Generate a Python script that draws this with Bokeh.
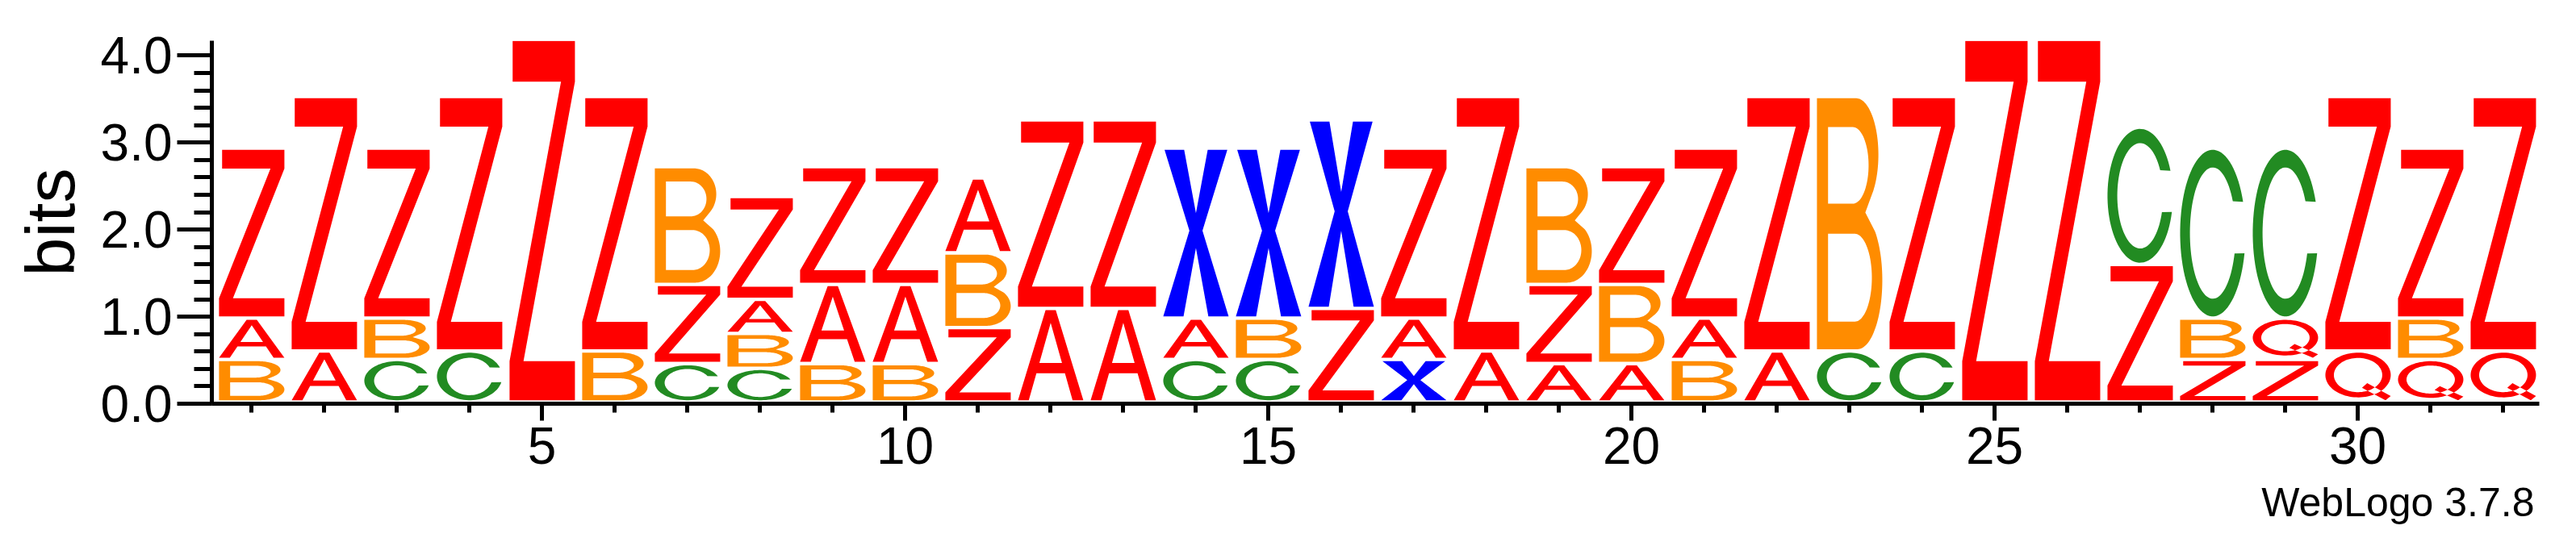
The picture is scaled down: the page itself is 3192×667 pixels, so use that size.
import numpy as np
from bokeh.plotting import figure
from bokeh.models import (ColumnDataSource, Range1d, SingleIntervalTicker,
                          NumeralTickFormatter, Title)
from bokeh.embed import file_html
from bokeh.resources import INLINE

# sequence logo: letters of each column from bottom to top, with their heights in bits
positions = list(range(1, 33))
stacks = ["BAZ", "AZ", "CBZ", "CZ", "Z", "BZ", "CZB", "CBAZ", "BAZ", "BAZ", "ZBA",
          "AZ", "AZ", "CAX", "CBX", "ZX", "XAZ", "AZ", "AZB", "ABZ", "BAZ", "AZ",
          "CB", "CZ", "Z", "Z", "ZC", "ZBC", "ZQC", "QZ", "QBZ", "QZ"]
heights = [
    [0.488, 0.475, 1.954], [0.586, 2.923], [0.488, 0.475, 1.954], [0.586, 2.923],
    [4.167], [0.586, 2.923], [0.441, 0.910, 1.352], [0.386, 0.401, 0.392, 1.182],
    [0.441, 0.910, 1.352], [0.441, 0.910, 1.352], [0.855, 0.858, 0.861],
    [1.074, 2.167], [1.074, 2.167], [0.488, 0.475, 1.954], [0.488, 0.475, 1.954],
    [1.074, 2.167], [0.488, 0.475, 1.954], [0.586, 2.923], [0.441, 0.910, 1.352],
    [0.441, 0.910, 1.352], [0.488, 0.475, 1.954], [0.586, 2.923], [0.586, 2.923],
    [0.586, 2.923], [4.167], [4.167], [1.580, 1.577], [0.488, 0.475, 1.954],
    [0.488, 0.475, 1.954], [0.586, 2.923], [0.488, 0.475, 1.954], [0.586, 2.923],
]
colors = {"A": "#FF0000", "Z": "#FF0000", "Q": "#FF0000",
          "B": "#FF8C00", "C": "#228B22", "X": "#0000FF"}


def arc(cx, cy, rx, ry, a0, a1, n=48):
    t = np.radians(np.linspace(a0, a1, n))
    return list(zip(cx + rx * np.cos(t), cy + ry * np.sin(t)))


# letter outlines in a unit box (x 0..1, y 0..1)
SHAPES = {
    "Z": [[[(0, 0), (1, 0), (1, 0.109), (0.213, 0.109), (1, 0.887), (1, 1),
            (0.047, 1), (0.047, 0.887), (0.787, 0.887), (0, 0.109)]]],
    "A": [[[(0, 0), (0.165, 0), (0.282, 0.30), (0.718, 0.30), (0.835, 0), (1, 0),
            (0.578, 1), (0.422, 1)],
           [(0.327, 0.415), (0.673, 0.415), (0.5, 0.86)]]],
    "X": [[[(0, 0), (0.31, 0), (0.5, 0.41), (0.69, 0), (1, 0), (0.6, 0.515),
            (0.98, 1), (0.68, 1), (0.5, 0.62), (0.32, 1), (0.02, 1), (0.4, 0.515)]]],
    "B": [[[(0, 0), (0, 1)] + arc(0.6, 0.775, 0.34, 0.225, 90, -45) + [(0.74, 0.545)]
           + arc(0.62, 0.275, 0.38, 0.275, 45, -90),
           [(0.17, 0.58), (0.17, 0.885)] + arc(0.55, 0.7325, 0.24, 0.1525, 90, -90),
           [(0.17, 0.11), (0.17, 0.46)] + arc(0.58, 0.285, 0.26, 0.175, 90, -90)]],
    "C": [[arc(0.5, 0.5, 0.5, 0.5, 22, 346, 80) + arc(0.5, 0.5, 0.35, 0.394, 342, 29, 80)]],
    "Q": [[arc(0.5, 0.53, 0.5, 0.47, 0, 360, 90), arc(0.5, 0.53, 0.37, 0.36, 0, 360, 90)],
          [[(0.56, 0.26), (0.64, 0.36), (1.0, 0.09), (0.92, 0.0)]]],
}

gap = 0.04      # blank strip under each letter, bits
glyph_w = 0.9   # letter width, positions

xs, ys, fills = [], [], []
for pos, stack, hs in zip(positions, stacks, heights):
    bottom = 0.0
    for ch, h in zip(stack, hs):
        x0 = pos - 0.445
        y0 = bottom + gap
        hh = h - gap
        xs.append([[[x0 + u * glyph_w for u, v in ring] for ring in poly] for poly in SHAPES[ch]])
        ys.append([[[y0 + v * hh for u, v in ring] for ring in poly] for poly in SHAPES[ch]])
        fills.append(colors[ch])
        bottom += h

source = ColumnDataSource(dict(xs=xs, ys=ys, color=fills))

p = figure(width=3192, height=667, output_backend="svg", toolbar_location=None,
           x_range=Range1d(0.456, 32.5), y_range=Range1d(0, 4.17),
           min_border_left=262, min_border_right=46, min_border_top=50, min_border_bottom=167)
p.outline_line_color = None
p.xgrid.grid_line_color = None
p.ygrid.grid_line_color = None

p.multi_polygons(xs="xs", ys="ys", fill_color="color", line_color=None, source=source)

font = "Liberation Sans"
for ax in (p.xaxis[0], p.yaxis[0]):
    ax.axis_line_width = 5
    ax.axis_line_color = "black"
    ax.major_tick_line_width = 5
    ax.minor_tick_line_width = 5
    ax.major_tick_in = 0
    ax.minor_tick_in = 0
    ax.major_label_text_font = font
    ax.major_label_text_font_size = "64px"
    ax.major_label_text_color = "black"

p.xaxis.ticker = SingleIntervalTicker(interval=5, num_minor_ticks=5)
p.xaxis.major_tick_out = 21
p.xaxis.minor_tick_out = 11
p.xaxis.major_label_standoff = 8

p.yaxis.ticker = SingleIntervalTicker(interval=1, num_minor_ticks=5)
p.yaxis.formatter = NumeralTickFormatter(format="0.0")
p.yaxis.major_tick_out = 43
p.yaxis.minor_tick_out = 22
p.yaxis.major_label_standoff = 6
p.yaxis.axis_label = "bits"
p.yaxis.axis_label_text_font = font
p.yaxis.axis_label_text_font_size = "86px"
p.yaxis.axis_label_text_font_style = "normal"
p.yaxis.axis_label_text_color = "black"
p.yaxis.axis_label_standoff = 12

p.add_layout(Title(text="WebLogo 3.7.8", align="right", text_font=font,
                   text_font_size="50px", text_font_style="normal",
                   text_color="black", standoff=30, offset=6), "below")

open("out.html", "w").write(file_html(p, INLINE))
